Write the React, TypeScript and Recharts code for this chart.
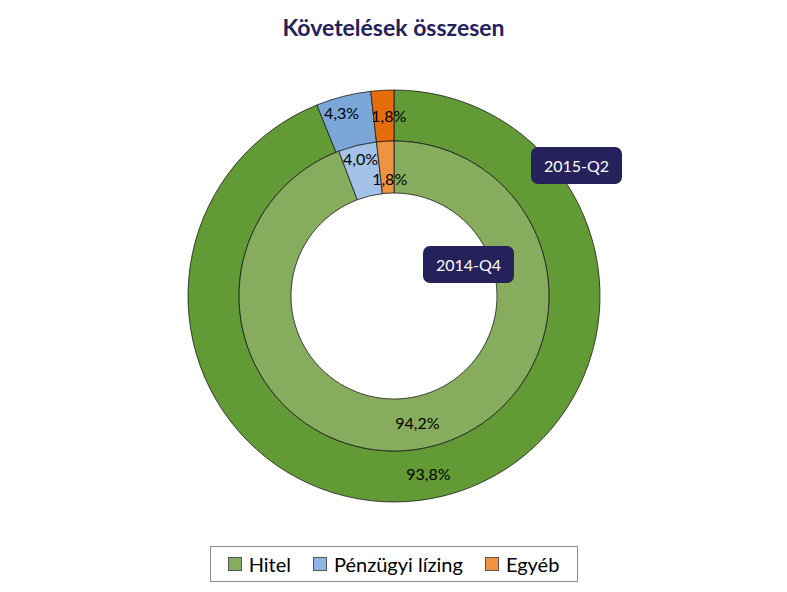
import React from "react";
import { PieChart, Pie, Cell, Legend } from "recharts";

const categories = ["Hitel", "Pénzügyi lízing", "Egyéb"];
const values2015Q2 = [93.8, 4.3, 1.8];
const values2014Q4 = [94.2, 4.0, 1.8];
const periodLabels = ["2015-Q2", "2014-Q4"];

const outerColors = ["#629A35", "#7BA6D8", "#E46C0A"];
const innerColors = ["#86AC5D", "#A4C2E7", "#EE9340"];
const legendColors = ["#86AC5D", "#8DB4E2", "#EE9340"];

const outerData = categories.map((name, i) => ({ name, value: values2015Q2[i] }));
const innerData = categories.map((name, i) => ({ name, value: values2014Q4[i] }));

const FONT = "Lato, 'Open Sans', 'DejaVu Sans', sans-serif";
const RAD = Math.PI / 180;

const fmt = (v: number) => v.toFixed(1).replace(".", ",") + "%";

const makeLabel = (offsets: { dx: number; dy: number }[]) => (props: any) => {
  const { cx, cy, midAngle, innerRadius, outerRadius, value, index } = props;
  const r = (innerRadius + outerRadius) / 2;
  const x = cx + r * Math.cos(-midAngle * RAD) + offsets[index].dx;
  const y = cy + r * Math.sin(-midAngle * RAD) + offsets[index].dy;
  return (
    <text
      x={x}
      y={y}
      textAnchor="middle"
      dominantBaseline="central"
      fill="#000"
      fontSize={16}
      fontFamily={FONT}
    >
      {fmt(value)}
    </text>
  );
};

const outerOffsets = [
  { dx: 0, dy: 0 },
  { dx: -8, dy: -9 },
  { dx: 5, dy: 0 },
];
const innerOffsets = [
  { dx: 0, dy: 0 },
  { dx: -3, dy: -12 },
  { dx: 3, dy: 11 },
];

const LegendContent = () => (
  <div
    style={{
      display: "flex",
      justifyContent: "center",
      alignItems: "center",
      gap: 22,
      border: "1px solid #8c8c8c",
      width: 368,
      height: 36,
      margin: "0 auto",
      boxSizing: "border-box",
      fontFamily: FONT,
      fontSize: 20,
      color: "#000",
    }}
  >
    {categories.map((c, i) => (
      <div key={c} style={{ display: "flex", alignItems: "center", gap: 7 }}>
        <span
          style={{
            display: "inline-block",
            width: 12,
            height: 12,
            background: legendColors[i],
            border: "1px solid #555",
          }}
        />
        <span>{c}</span>
      </div>
    ))}
  </div>
);

const boxStyle = (left: number, top: number): React.CSSProperties => ({
  position: "absolute",
  left,
  top,
  width: 91,
  height: 37,
  borderRadius: 7,
  background: "#25215A",
  color: "#fff",
  fontFamily: FONT,
  fontSize: 16,
  display: "flex",
  alignItems: "center",
  justifyContent: "center",
});

export default function App() {
  return (
    <div style={{ position: "absolute", left: 0, top: 0, width: 787, height: 592, background: "#fff" }}>
      <div
        style={{
          position: "absolute",
          left: 0,
          top: 13,
          width: 787,
          textAlign: "center",
          fontFamily: FONT,
          fontWeight: 700,
          fontSize: 23,
          lineHeight: "29px",
          color: "#25215A",
        }}
      >
        Követelések összesen
      </div>
      <PieChart width={787} height={592} margin={{ top: 0, right: 0, bottom: 0, left: 0 }}>
        <Pie
          data={outerData}
          dataKey="value"
          nameKey="name"
          cx={394}
          cy={296}
          innerRadius={155}
          outerRadius={206}
          startAngle={90}
          endAngle={-270}
          stroke="#1a1a1a"
          strokeWidth={0.8}
          isAnimationActive={false}
          labelLine={false}
          label={makeLabel(outerOffsets)}
        >
          {outerData.map((d, i) => (
            <Cell key={d.name} fill={outerColors[i]} />
          ))}
        </Pie>
        <Pie
          data={innerData}
          dataKey="value"
          nameKey="name"
          cx={394}
          cy={296}
          innerRadius={103}
          outerRadius={155}
          startAngle={90}
          endAngle={-270}
          stroke="#1a1a1a"
          strokeWidth={0.8}
          isAnimationActive={false}
          labelLine={false}
          label={makeLabel(innerOffsets)}
        >
          {innerData.map((d, i) => (
            <Cell key={d.name} fill={innerColors[i]} />
          ))}
        </Pie>
        <Legend
          content={<LegendContent />}
          verticalAlign="bottom"
          wrapperStyle={{ bottom: 10, left: 0, width: 787 }}
        />
      </PieChart>
      <div style={boxStyle(531, 147)}>{periodLabels[0]}</div>
      <div style={boxStyle(423, 246)}>{periodLabels[1]}</div>
    </div>
  );
}
